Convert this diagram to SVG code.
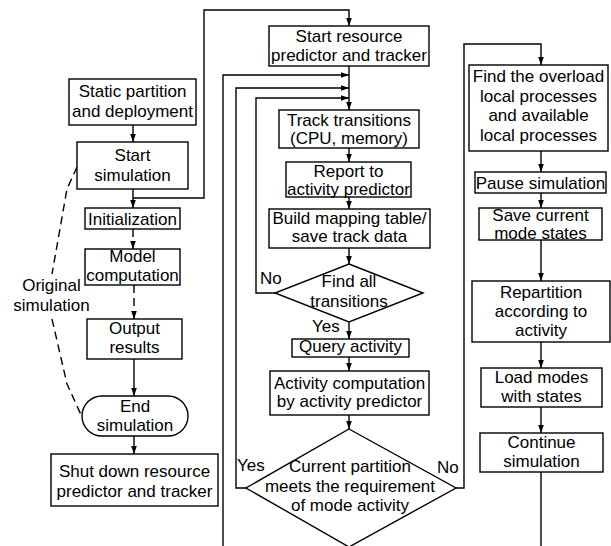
<svg xmlns="http://www.w3.org/2000/svg" width="611" height="546" viewBox="0 0 611 546">
<style>
.b{fill:#fff;stroke:#000;stroke-width:1.4}
.t{font-family:"Liberation Sans",Arial,sans-serif;font-size:17px;fill:#000;text-anchor:middle}
.l{font-family:"Liberation Sans",Arial,sans-serif;font-size:17px;fill:#000}
.c{fill:none;stroke:#000;stroke-width:1.4}
.a{marker-end:url(#ah)}
.d{stroke-dasharray:8,5}
</style>
<defs>
<marker id="ah" markerUnits="userSpaceOnUse" markerWidth="9" markerHeight="7" refX="8.5" refY="3.5" orient="auto">
<path d="M0,0.5 L8.5,3.5 L0,6.5 z" fill="#000"/>
</marker>
</defs>
<rect width="611" height="546" fill="#fff"/>
<g id="connectors">
<line class="c a" x1="133" y1="125" x2="133" y2="142"/>
<line class="c a" x1="133" y1="189" x2="133" y2="208"/>
<polyline class="c a" points="133,198 204,198 204,10 349,10 349,26"/>
<line class="c a d" x1="133" y1="229" x2="133" y2="249"/>
<line class="c a d" x1="134" y1="285" x2="134" y2="319"/>
<line class="c a" x1="134" y1="359" x2="134" y2="396"/>
<line class="c a" x1="134" y1="436" x2="134" y2="454"/>
<polyline class="c d" points="77,167 67,189 52,274"/>
<polyline class="c d" points="52,319 67,384 82,417"/>
<line class="c a" x1="349" y1="66" x2="349" y2="110"/>
<polyline class="c a" points="223,546 223,75 349,75"/>
<polyline class="c a" points="246,488 236,488 236,88 349,88"/>
<polyline class="c a" points="275,293 256,293 256,98 349,98"/>
<line class="c a" x1="349" y1="148" x2="349" y2="162"/>
<line class="c a" x1="349" y1="197" x2="349" y2="209"/>
<line class="c a" x1="349" y1="248" x2="349" y2="264"/>
<line class="c a" x1="349" y1="322" x2="349" y2="339"/>
<line class="c a" x1="349" y1="357" x2="349" y2="371"/>
<line class="c a" x1="349" y1="415" x2="349" y2="429"/>
<polyline class="c a" points="456,488 464,488 464,44 541,44 541,65"/>
<line class="c a" x1="541" y1="151" x2="541" y2="172"/>
<line class="c a" x1="541" y1="193" x2="541" y2="208"/>
<line class="c a" x1="541" y1="240" x2="541" y2="281"/>
<line class="c a" x1="541" y1="342" x2="541" y2="368"/>
<line class="c a" x1="541" y1="407" x2="541" y2="433"/>
<line class="c" x1="541" y1="472" x2="541" y2="546"/>
</g>
<g id="static-partition">
<rect class="b" x="69" y="79" width="127" height="46"/>
<text class="t" x="132.5" y="97">Static partition</text>
<text class="t" x="132.5" y="117">and deployment</text>
</g>
<g id="start-simulation">
<rect class="b" x="77" y="142" width="111" height="47"/>
<text class="t" x="132.5" y="161">Start</text>
<text class="t" x="132.5" y="181">simulation</text>
</g>
<g id="initialization">
<rect class="b" x="85" y="208" width="95" height="21"/>
<text class="t" x="132.5" y="224.5">Initialization</text>
</g>
<g id="model-computation">
<rect class="b" x="85" y="249" width="95" height="36"/>
<text class="t" x="132.5" y="261.5">Model</text>
<text class="t" x="132.5" y="280.5">computation</text>
</g>
<g id="output-results">
<rect class="b" x="87" y="319" width="95" height="40"/>
<text class="t" x="134.5" y="334">Output</text>
<text class="t" x="134.5" y="353">results</text>
</g>
<g id="end-simulation">
<rect class="b" x="82" y="396" width="106" height="40" rx="20" ry="20"/>
<text class="t" x="135" y="412">End</text>
<text class="t" x="135" y="431">simulation</text>
</g>
<g id="shut-down">
<rect class="b" x="51" y="454" width="167" height="52"/>
<text class="t" x="134.5" y="477">Shut down resource</text>
<text class="t" x="134.5" y="497">predictor and tracker</text>
</g>
<g id="original-simulation-label">
<text class="t" x="51.5" y="291">Original</text>
<text class="t" x="51.5" y="311">simulation</text>
</g>
<g id="start-resource">
<rect class="b" x="269" y="26" width="160" height="40"/>
<text class="t" x="349" y="41.5">Start resource</text>
<text class="t" x="349" y="61">predictor and tracker</text>
</g>
<g id="track-transitions">
<rect class="b" x="279" y="110" width="140" height="38"/>
<text class="t" x="349" y="125.5">Track transitions</text>
<text class="t" x="349" y="144">(CPU, memory)</text>
</g>
<g id="report">
<rect class="b" x="286" y="162" width="125" height="35"/>
<text class="t" x="348.5" y="177">Report to</text>
<text class="t" x="348.5" y="195">activity predictor</text>
</g>
<g id="build-mapping">
<rect class="b" x="269" y="209" width="161" height="39"/>
<text class="t" x="349.5" y="223.5">Build mapping table/</text>
<text class="t" x="349.5" y="242">save track data</text>
</g>
<g id="find-all">
<polygon class="b" points="349,264 423,293 349,322 275,293"/>
<text class="t" x="349" y="287">Find all</text>
<text class="t" x="349" y="306.5">transitions</text>
<text class="l" x="260" y="284">No</text>
<text class="l" x="312" y="331.5">Yes</text>
</g>
<g id="query-activity">
<rect class="b" x="292" y="339" width="117" height="18"/>
<text class="t" x="350.5" y="352">Query activity</text>
</g>
<g id="activity-computation">
<rect class="b" x="270" y="371" width="159" height="44"/>
<text class="t" x="349.5" y="388.5">Activity computation</text>
<text class="t" x="349.5" y="407">by activity predictor</text>
</g>
<g id="current-partition">
<polygon class="b" points="349,429 456,488 349,547 246,488"/>
<text class="t" x="350" y="471.5">Current partition</text>
<text class="t" x="350" y="491.5">meets the requirement</text>
<text class="t" x="350" y="510.5">of mode activity</text>
<text class="l" x="237" y="471">Yes</text>
<text class="l" x="437" y="473">No</text>
</g>
<g id="find-overload">
<rect class="b" x="469" y="65" width="139" height="86"/>
<text class="t" x="538.5" y="82">Find the overload</text>
<text class="t" x="538.5" y="101.5">local processes</text>
<text class="t" x="538.5" y="121">and available</text>
<text class="t" x="538.5" y="140.5">local processes</text>
</g>
<g id="pause">
<rect class="b" x="475" y="172" width="131" height="21"/>
<text class="t" x="540.5" y="189">Pause simulation</text>
</g>
<g id="save-states">
<rect class="b" x="479" y="208" width="123" height="32"/>
<text class="t" x="540.5" y="220.5">Save current</text>
<text class="t" x="540.5" y="239">mode states</text>
</g>
<g id="repartition">
<rect class="b" x="472" y="281" width="138" height="61"/>
<text class="t" x="541" y="298">Repartition</text>
<text class="t" x="541" y="317">according to</text>
<text class="t" x="541" y="336">activity</text>
</g>
<g id="load-modes">
<rect class="b" x="481" y="368" width="121" height="39"/>
<text class="t" x="541.5" y="383">Load modes</text>
<text class="t" x="541.5" y="402">with states</text>
</g>
<g id="continue">
<rect class="b" x="480" y="433" width="123" height="39"/>
<text class="t" x="541.5" y="448">Continue</text>
<text class="t" x="541.5" y="467">simulation</text>
</g>
</svg>
